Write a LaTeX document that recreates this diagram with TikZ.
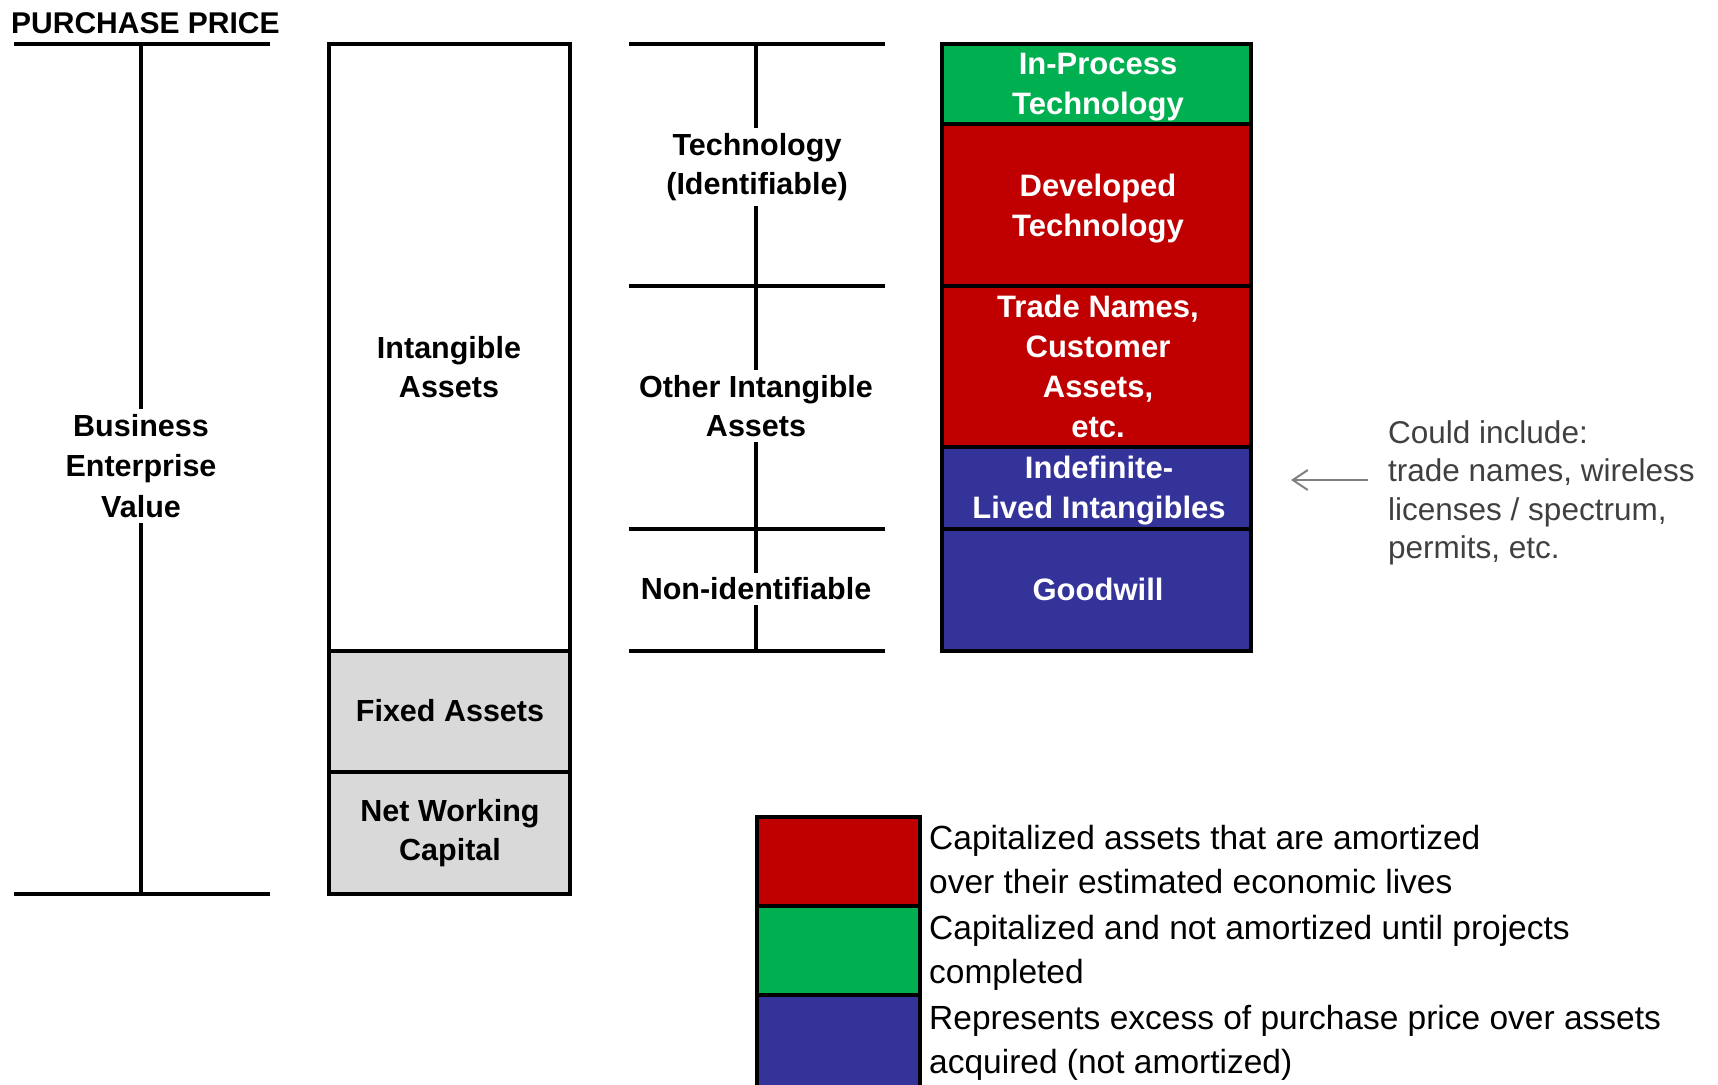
\documentclass[tikz,border=0pt]{standalone}
\usepackage{fontspec}
\setmainfont{Liberation Sans}
\usetikzlibrary{arrows.meta}
\definecolor{ipgreen}{HTML}{00B050}
\definecolor{amred}{HTML}{C00000}
\definecolor{gwblue}{HTML}{343399}
\definecolor{fagray}{HTML}{D9D9D9}
\definecolor{notegray}{HTML}{404040}
\definecolor{arrgray}{HTML}{808080}

\begin{document}
\begin{tikzpicture}[x=1pt,y=-1pt,
  lbl/.style={font=\fontsize{30.5}{39.5}\selectfont\bfseries, align=center, inner sep=0pt},
  cut/.style={lbl, fill=white, inner xsep=4pt, inner ysep=5pt},
  blk/.style={draw=black, line width=4.5pt, inner sep=0pt},
  wtxt/.style={font=\fontsize{31}{40}\selectfont\bfseries, text=white, align=center, inner sep=0pt},
  bar/.style={line width=4.5pt},
  legtxt/.style={font=\fontsize{33.5}{44}\selectfont, align=left, anchor=west, inner sep=0pt},
]
\useasboundingbox (0,0) rectangle (1718,1084);

% ---- purchase price bracket ----
\node[lbl, font=\fontsize{30}{36}\selectfont\bfseries, anchor=base west] (pptitle) at (11,33) {PURCHASE PRICE};
\coordinate (ppTL) at (14,44);  \coordinate (ppTR) at (270,44);
\coordinate (ppBL) at (14,894); \coordinate (ppBR) at (270,894);
\coordinate (ppTop) at (141,44); \coordinate (ppBot) at (141,894);
\draw[bar] (ppTL) -- (ppTR);
\draw[bar] (ppBL) -- (ppBR);
\draw[bar] (ppTop) -- (ppBot);
\node[cut, font=\fontsize{30.5}{40.5}\selectfont\bfseries] (bev) at (141,466) {Business\\Enterprise\\Value};

% ---- asset stack ----
\node[blk, fill=white, minimum width=241pt, minimum height=607pt] (intang) at (449.5,347.5) {};
\node[lbl] (intangT) at (449,367) {Intangible\\Assets};
\node[blk, fill=fagray, minimum width=241pt, minimum height=121pt] (fixed) at (449.5,711.5) {};
\node[lbl] (fixedT) at (450,711) {Fixed Assets};
\node[blk, fill=fagray, minimum width=241pt, minimum height=122pt] (nwc) at (449.5,833) {};
\node[lbl] (nwcT) at (450,833) {Net Working\\Capital};

% ---- intangible categories ----
\coordinate (c1L) at (629,44);  \coordinate (c1R) at (885,44);
\coordinate (c2L) at (629,286); \coordinate (c2R) at (885,286);
\coordinate (c3L) at (629,529); \coordinate (c3R) at (885,529);
\coordinate (c4L) at (629,651); \coordinate (c4R) at (885,651);
\coordinate (cTop) at (756,44); \coordinate (cBot) at (756,651);
\draw[bar] (c1L) -- (c1R);
\draw[bar] (c2L) -- (c2R);
\draw[bar] (c3L) -- (c3R);
\draw[bar] (c4L) -- (c4R);
\draw[bar] (cTop) -- (cBot);
\node[cut] (techT) at (757,167) {Technology\\(Identifiable)};
\node[cut] (otherT) at (756,406) {Other Intangible\\Assets};
\node[cut] (nonidT) at (756,589) {Non-identifiable};

% ---- coloured detail column ----
\node[blk, fill=ipgreen, minimum width=309pt, minimum height=80pt] (inproc) at (1096.5,84) {};
\node[wtxt] (inprocT) at (1098,87.5) {In-Process\\Technology};
\node[blk, fill=amred, minimum width=309pt, minimum height=162pt] (devtech) at (1096.5,205) {};
\node[wtxt] (devtechT) at (1098,208.5) {Developed\\Technology};
\node[blk, fill=amred, minimum width=309pt, minimum height=161pt] (trade) at (1096.5,366.5) {};
\node[wtxt] (tradeT) at (1098,366) {Trade Names,\\Customer\\Assets,\\etc.};
\node[blk, fill=gwblue, minimum width=309pt, minimum height=82pt] (indef) at (1096.5,488) {};
\node[wtxt] (indefT) at (1099,491) {Indefinite-\\Lived Intangibles};
\node[blk, fill=gwblue, minimum width=309pt, minimum height=122pt] (goodw) at (1096.5,590) {};
\node[wtxt] (goodwT) at (1098,589) {Goodwill};

% ---- side note ----
\node[font=\fontsize{31.5}{38.5}\selectfont, text=notegray, align=left, anchor=west, inner sep=0pt] (note) at (1388,493)
  {Could include:\\trade names, wireless\\licenses / spectrum,\\permits, etc.};
\coordinate (arrTail) at (1368,480);
\coordinate (arrTip) at (1291,480);
\draw[line width=2pt, arrgray, -{Straight Barb[length=15pt,width=20pt,line width=2pt]}] (arrTail) -- (arrTip);

% ---- legend ----
\node[blk, fill=amred, minimum width=163pt, minimum height=89pt] (legred) at (838.5,861.5) {};
\node[blk, fill=ipgreen, minimum width=163pt, minimum height=89pt] (leggreen) at (838.5,950.5) {};
\node[blk, fill=gwblue, minimum width=163pt, minimum height=92pt] (legblue) at (838.5,1041) {};
\node[legtxt] (legredT) at (929,860) {Capitalized assets that are amortized\\over their estimated economic lives};
\node[legtxt] (leggreenT) at (929,953) {Capitalized and not amortized until projects\\completed};
\node[legtxt] (legblueT) at (929,1043) {Represents excess of purchase price over assets\\acquired (not amortized)};
\end{tikzpicture}
\end{document}
